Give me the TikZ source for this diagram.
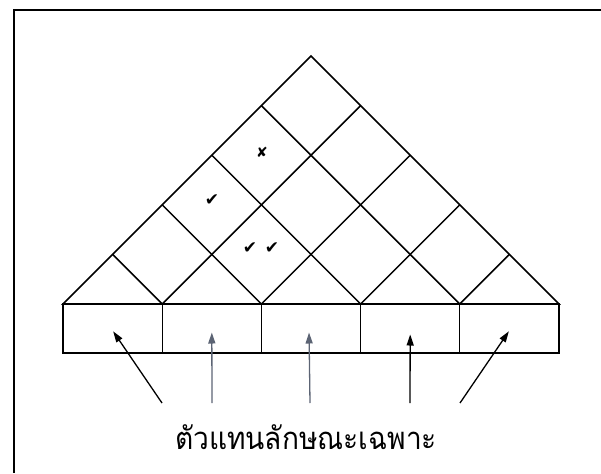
\documentclass[tikz,border=0pt]{standalone}
\usepackage{fontspec}
\usetikzlibrary{arrows.meta,positioning,calc}
\newfontfamily\thaifont[Script=Thai]{Loma}
\newfontfamily\symfont{DejaVu Sans}
\definecolor{scangray}{RGB}{92,100,116}

\begin{document}
\begin{tikzpicture}[x=1pt,y=-1pt,line width=1.5pt,node distance=0pt,cell/.style={draw,rectangle,outer sep=0pt,line width=1.3pt,minimum width=99.2pt,minimum height=49pt},tickmark/.style={font=\symfont\fontsize{17}{17}\selectfont,inner sep=0pt},arr/.style={-{Triangle[length=11pt,width=7pt]},line width=1.3pt,shorten >=1pt}]
\useasboundingbox (0,0) rectangle (601,473);
\draw[line width=1.2pt] (601,10)--(14,10)--(14,473);
% triangle of features
\coordinate (L) at (63,304);\coordinate (R) at (559,304);\coordinate (A) at (311,56);
\draw (L)--(A)--(R)--cycle;
\foreach \k in {1,...,4}{\draw ($(L)!\k/5!(R)$)--($(A)!\k/5!(R)$);\draw ($(L)!\k/5!(R)$)--($(L)!\k/5!(A)$);}
\node[tickmark,font=\symfont\fontsize{14}{14}\selectfont] (cross) at (262,152) {✘};
\node[tickmark] (tick1) at (212,200) {✔};
\node[tickmark] (tick2) at (250,248) {✔};
\node[tickmark] (tick3) at (272,248) {✔};
% row of boxes
\node[cell,anchor=north west] (b1) at (L) {};
\node[cell,right=of b1] (b2) {};\node[cell,right=of b2] (b3) {};\node[cell,right=of b3] (b4) {};\node[cell,right=of b4] (b5) {};
\node[font=\thaifont\fontsize{27}{30}\selectfont] (lbl) at (306,437) {\scalebox{1.04}[1.15]{ตัวแทนลักษณะเฉพาะ}};
\coordinate (t1) at (162,403);\coordinate (t2) at (212,403);\coordinate (t3) at (310,403);\coordinate (t4) at (410,403);\coordinate (t5) at (460,403);
\draw[arr](t1)--($(b1.center)+(0,2)$);\draw[arr,scangray](t2)--($(b2.center)+(0,3)$);\draw[arr,scangray](t3)--($(b3.center)+(-2,3)$);
\draw[arr](t4)--($(b4.center)+(0,5)$);\draw[arr](t5)--($(b5.center)+(0,2)$);
\end{tikzpicture}
\end{document}
